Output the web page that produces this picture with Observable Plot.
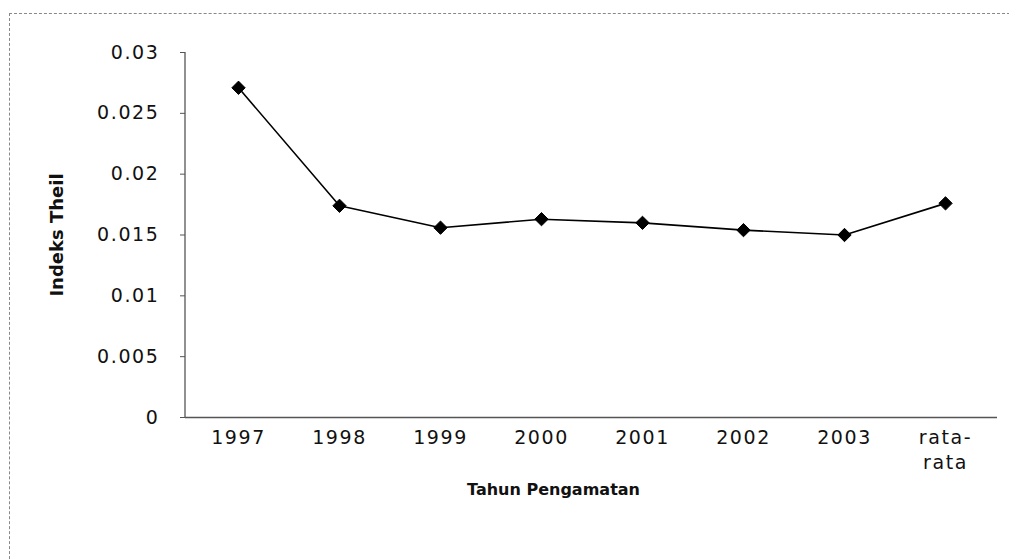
<!DOCTYPE html>
<html><head><meta charset="utf-8">
<script src="https://cdn.jsdelivr.net/npm/d3@7"></script>
<script src="https://cdn.jsdelivr.net/npm/@observablehq/plot@0.6"></script>
<style>
body{margin:0;background:#fff;}
#wrap{position:relative;width:1009px;height:560px;overflow:hidden;}
#border{position:absolute;left:9px;top:13px;width:1010px;height:560px;border-top:1px dashed #888;border-left:1px dashed #888;pointer-events:none;}
g[aria-label="y-axis tick label"] text, g[aria-label="x-axis tick label"] text{letter-spacing:1.6px;}
</style></head><body><div id="wrap"><div id="border"></div></div>
<script>
const categories = ["1997","1998","1999","2000","2001","2002","2003","rata-rata"];
const theil = [0.0271, 0.0174, 0.0156, 0.0163, 0.0160, 0.0154, 0.0150, 0.0176];
const yTicks = [0, 0.005, 0.01, 0.015, 0.02, 0.025, 0.03];
const yTitle = "Indeks Theil";
const xTitle = "Tahun Pengamatan";

const data = categories.map((c, i) => ({tahun: c, nilai: theil[i]}));

const plot = Plot.plot({
  width: 1009,
  height: 560,
  marginLeft: 185,
  marginRight: 12,
  marginTop: 52,
  marginBottom: 143,
  style: {fontFamily: "DejaVu Sans", color: "#111", background: "transparent"},
  x: {type: "point", domain: categories, padding: 0.5},
  y: {domain: [0, 0.03]},
  marks: [
    Plot.ruleY([0], {stroke: "#555", strokeWidth: 1.3}),
    Plot.axisY({ticks: yTicks, tickFormat: d => String(+d.toFixed(3)), tickSize: 5, tickPadding: 21, fontSize: 19, stroke: "#555", label: null}),
    Plot.axisX({tickSize: 0, tickPadding: 9, fontSize: 19, lineHeight: 1.3,
      tickFormat: d => d === "rata-rata" ? "rata-\nrata" : d, label: null}),
    Plot.line(data, {x: "tahun", y: "nilai", stroke: "#000", strokeWidth: 1.6}),
    Plot.dot(data, {x: "tahun", y: "nilai", symbol: "diamond2", r: 6, fill: "#000", stroke: "#000", strokeWidth: 1}),
    Plot.text([yTitle], {text: d => d, frameAnchor: "left", textAnchor: "middle", rotate: -90, dx: -128, fontSize: 18, fontWeight: "bold"}),
    Plot.text([xTitle], {text: d => d, frameAnchor: "bottom", textAnchor: "middle", dx: -38, dy: 77, fontSize: 16, fontWeight: "bold"})
  ]
});

document.getElementById("wrap").appendChild(plot);

// y axis line, drawn from the plot's own scales
const xs = plot.scale("x"), ys = plot.scale("y");
const x0 = Math.min(...xs.range);
d3.select(plot).append("line")
  .attr("x1", x0).attr("x2", x0)
  .attr("y1", ys.apply(yTicks[yTicks.length - 1])).attr("y2", ys.apply(0))
  .attr("stroke", "#555").attr("stroke-width", 1.3);
</script>
</body></html>
